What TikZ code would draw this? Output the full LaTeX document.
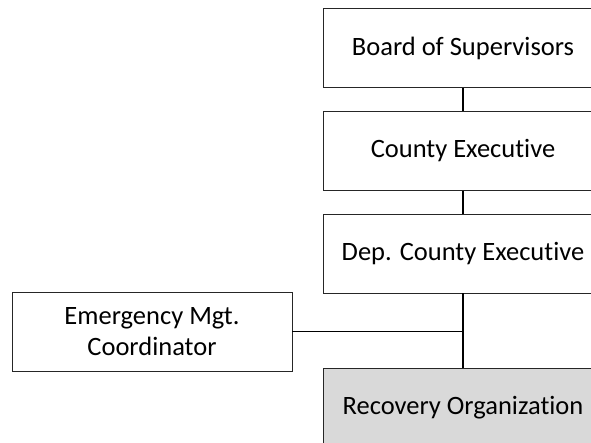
\documentclass[tikz,border=0pt]{standalone}
\usepackage{fontspec}
\setmainfont{Carlito}[Ligatures=NoCommon]
\usetikzlibrary{positioning}

\begin{document}
\begin{tikzpicture}[
        x=1pt, y=1pt,
        every node/.style={font=\fontsize{26.5}{31}\selectfont},
        orgbox/.style={draw=black!85, line width=0.9pt, minimum width=280pt, minimum height=79pt, align=center, inner sep=0pt},
        link/.style={line width=1.8pt}
    ]
    \useasboundingbox (0,0) rectangle (591,442);
    \clip (0,0) rectangle (591,442);
    \node[orgbox] (Board) at (463,394) {Board of Supervisors};
    \node[orgbox] (CExec) at (463,291) {County Executive};
    \node[orgbox] (DepExec) at (463,188.5) {Dep. County Executive};
    \node[orgbox, fill=black!15] (Recovery) at (463,34) {Recovery Organization};
    \node[orgbox] (EmMgt) at (152,110.5) {Emergency Mgt.\\Coordinator};
    \coordinate (jn) at (EmMgt.east -| DepExec.south);
    \draw[link] (Board) -- (CExec);
    \draw[link] (CExec) -- (DepExec);
    \draw[link] (DepExec) -- (Recovery);
    \draw[link] (EmMgt) -- (jn);
\end{tikzpicture}
\end{document}
